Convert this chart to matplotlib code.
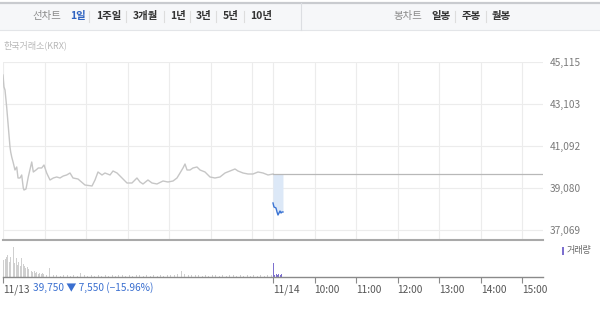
import numpy as np
import matplotlib
matplotlib.use("Agg")
import matplotlib.pyplot as plt
from matplotlib.patches import Rectangle

plt.rcParams['font.family'] = ['Noto Sans CJK KR', 'DejaVu Sans']

# ---------------- data ----------------
# minutes since 11/13 09:00 (trading minutes; 11/14 09:00 = 390)
day1_min = [0, 1.4, 2.9, 5.3, 7.7, 10.1, 11.1, 12.6, 14.9, 17.3, 19.8, 21.7, 24.6, 27.0,
            29.3, 30.3, 33.2, 36.5, 41.5, 43.8, 47.7, 51.0, 55.9, 59.2, 63.1, 67.9, 72.7,
            77.6, 82.3, 87.1, 92.0, 96.8, 101.1, 108.3, 118.4, 128.6, 132.9, 137.2, 143.0,
            147.3, 154.6, 158.9, 164.7, 171.9, 179.1, 186.3, 193.5, 197.9, 202.2, 209.4,
            215.2, 222.4, 231.1, 238.3, 245.6, 251.3, 255.7, 260.0, 262.9, 265.8, 270.1,
            274.4, 280.2, 284.6, 291.8, 299.0, 306.2, 313.4, 320.7, 327.9, 335.1, 339.4,
            346.7, 353.9, 361.1, 368.3, 375.6, 382.8, 390]
day1_price = [44490, 43920, 43774, 42960, 42002, 41044, 40805, 40566, 40278, 39943, 40087,
              39560, 39560, 39704, 39081, 38985, 39033, 39608, 40326, 39847, 39943, 40039,
              40039, 40182, 39799, 39464, 39560, 39608, 39560, 39656, 39704, 39799, 39560,
              39512, 39224, 39177, 39464, 39847, 39704, 39799, 39704, 39895, 39799, 39560,
              39320, 39320, 39560, 39368, 39273, 39464, 39320, 39273, 39416, 39368, 39416,
              39560, 39799, 40039, 40230, 39943, 39943, 40039, 40087, 39943, 39847, 39608,
              39560, 39608, 39799, 39895, 39991, 39895, 39799, 39751, 39751, 39847, 39799,
              39704, 39750]

day2_min = [390, 391.4, 394.3, 395.8, 397.2, 400.1, 401.6, 403.0, 404.4]
day2_price = [38363, 38172, 38124, 37932, 37788, 37979, 37884, 37932, 37932]

prev_close = 39750

# volume (thousand shares)
vol1_early = [68, 72, 80, 88, 60, 80, 96, 120, 56, 76, 48, 60, 44, 76, 52, 44, 36, 40,
              32, 36, 24, 20, 24, 16, 20, 12, 16, 12, 16, 12]          # 2-min buckets, 09:00-10:00
vol1_late = [8, 36, 10, 8, 6, 8, 10, 6, 8, 6, 16, 8, 6, 8, 6, 10, 6, 8, 6, 8, 6, 10,
             8, 6, 8, 6, 8, 10, 6, 8, 6, 8, 6, 8, 6, 8, 10, 8, 14, 24, 12, 10, 8, 10,
             8, 6, 8, 6, 8, 10, 6, 8, 6, 8, 8, 6, 8, 6, 10, 6, 8, 6, 8, 6, 8, 10]  # 5-min buckets, 10:00-15:30
vol2_min = [390, 392, 394, 396, 398, 400, 402, 404]
vol2 = [56, 8, 12, 8, 12, 10, 12, 8]

yticks = [37069, 39080, 41092, 43103, 45115]
ytick_labels = ["37,069", "39,080", "41,092", "43,103", "45,115"]
xtick_pos = [0, 390, 450, 510, 570, 630, 690, 750]
xtick_labels = ["11/13", "11/14", "10:00", "11:00", "12:00", "13:00", "14:00", "15:00"]

# ---------------- figure ----------------
W, H = 600, 310
fig = plt.figure(figsize=(W / 100, H / 100), dpi=100)
fig.patch.set_facecolor("white")


def fx(px):
    return px / W


def fy(py):
    return 1 - py / H


# toolbar / overlay axes in pixel coordinates
tb = fig.add_axes([0, 0, 1, 1], zorder=-1)
tb.set_xlim(0, W)
tb.set_ylim(H, 0)
tb.axis("off")
tb.add_patch(Rectangle((0, 3), W, 27, facecolor="#f6f7f9", edgecolor="none"))
tb.plot([0, W], [3, 3], color="#c9cbcf", lw=1.6)
tb.plot([0, W], [30, 30], color="#e3e5e8", lw=0.8)
tb.plot([301, 301], [3, 30], color="#dcdee2", lw=0.8)

left_items = [("선차트", 32, "#8a8a8a", "normal"), ("1일", 70, "#2f63c0", "bold"),
              ("1주일", 96, "#333333", "bold"), ("3개월", 133, "#333333", "bold"),
              ("1년", 170, "#333333", "bold"), ("3년", 196, "#333333", "bold"),
              ("5년", 223, "#333333", "bold"), ("10년", 250, "#333333", "bold")]
for t, x, c, w in left_items:
    tb.text(x, 16.5, t, color=c, fontsize=7.5, fontweight=w, va="center", ha="left")
for x in [89, 126, 164, 190, 216, 244]:
    tb.plot([x, x], [11, 22], color="#dddddd", lw=0.8)

right_items = [("봉차트", 393, "#8a8a8a", "normal"), ("일봉", 431, "#333333", "bold"),
               ("주봉", 462, "#333333", "bold"), ("월봉", 492, "#333333", "bold")]
for t, x, c, w in right_items:
    tb.text(x, 16.5, t, color=c, fontsize=7.5, fontweight=w, va="center", ha="left")
for x in [455, 486]:
    tb.plot([x, x], [11, 22], color="#dddddd", lw=0.8)

tb.text(3, 45, "한국거래소(KRX)", color="#b8b8b8", fontsize=6.5, va="center", ha="left")

# price axes
xmin, xmax = 0, 780
ax = fig.add_axes([fx(3), fy(240), fx(543) - fx(3), fy(62) - fy(240)])
ax.set_xlim(xmin, xmax)
ppx = (45115 - 37069) / 168.0
ax.set_ylim(37069 - 10 * ppx, 45115)
for s in ["top", "left", "right"]:
    ax.spines[s].set_visible(False)
ax.spines["bottom"].set_color("#a9a9a9")
ax.spines["bottom"].set_linewidth(1.5)
ax.set_yticks(yticks)
ax.set_xticks([0, 60, 120, 180, 240, 300, 360, 390, 450, 510, 570, 630, 690, 750])
ax.grid(True, color="#ececec", lw=0.8)
ax.tick_params(axis="x", length=0, labelbottom=False)
ax.tick_params(axis="y", length=0, labelleft=False, labelright=True, pad=5,
               labelsize=7.3, labelcolor="#7a7a7a")
ax.set_yticklabels(ytick_labels)
ax.set_axisbelow(True)

ax.plot(day1_min, day1_price, color="#c6c6c6", lw=1.0)
ax.plot([390, 780], [prev_close, prev_close], color="#b8b8b8", lw=0.9)
ax.fill_between(day2_min, day2_price, prev_close, color="#dce8f7", lw=0)
ax.plot(day2_min, day2_price, color="#3b74d4", lw=1.0)

# volume axes
vax = fig.add_axes([fx(3), fy(277), fx(543) - fx(3), fy(241) - fy(277)])
vax.set_xlim(xmin, xmax)
vmax = max(vol1_early)
vax.set_ylim(0, vmax * 36 / 30)
early_t = np.arange(len(vol1_early)) * 2 + 1
late_t = 60 + np.arange(len(vol1_late)) * 5 + 2.5
vax.bar(early_t, vol1_early, width=1.3, color="#cfcfcf", lw=0)
vax.bar(late_t, vol1_late, width=1.5, color="#cfcfcf", lw=0)
vax.bar(np.array(vol2_min) + 0.5, vol2, width=1.3, color="#7d70cf", lw=0)
for s in ["top", "left", "right"]:
    vax.spines[s].set_visible(False)
vax.spines["bottom"].set_color("#8a8a8a")
vax.spines["bottom"].set_linewidth(1.0)
vax.set_yticks([])
vax.set_xticks(xtick_pos)
vax.set_xticklabels(xtick_labels)
vax.tick_params(axis="x", length=4, width=0.8, color="#8a8a8a", labelsize=7.3,
                labelcolor="#555555", pad=1.5)
for lbl in vax.get_xticklabels():
    lbl.set_horizontalalignment("left")
vax.patch.set_alpha(0)

tb.text(33, 287.5, "39,750 ▼ 7,550 (−15.96%)", color="#3a6fd0", fontsize=7.3,
        va="center", ha="left")
tb.add_patch(Rectangle((562, 247), 2, 8, facecolor="#7d70cf", edgecolor="none"))
tb.text(567, 251, "거래량", color="#666666", fontsize=6.5, va="center", ha="left")

fig.savefig("out.png", dpi=100)
